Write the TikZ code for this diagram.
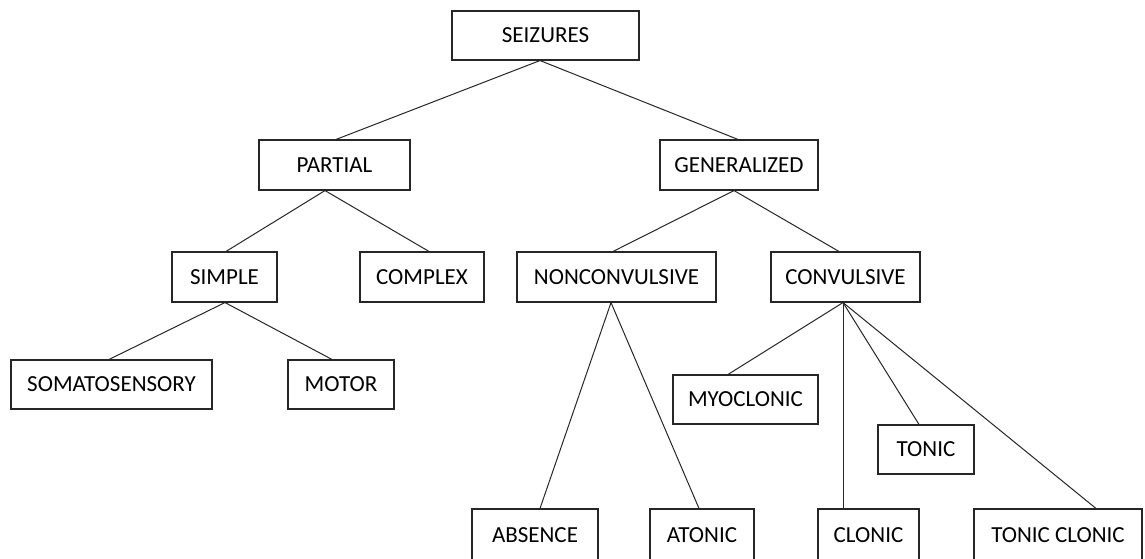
\documentclass[tikz,border=0pt]{standalone}
\usepackage{fontspec}
\setmainfont{Carlito}
\begin{document}
\begin{tikzpicture}[x=1pt,y=-1pt,
  box/.style={draw=black!85,line width=1.1pt,inner sep=0pt,minimum height=49pt,
    font=\fontsize{23}{27}\selectfont,text=black},
  link/.style={draw=black!85,line width=1pt}]
\useasboundingbox (0,0) rectangle (1145,558);
\clip (0,0) rectangle (1145,558);
\node[box,minimum width=187pt] (seiz) at (545.5,35.5) {SEIZURES};
\node[box,minimum width=151pt,minimum height=50pt] (part) at (334.5,165) {PARTIAL};
\node[box,minimum width=158pt,minimum height=50pt] (gen) at (739,165) {GENERALIZED};
\node[box,minimum width=105pt,minimum height=50pt] (simp) at (224.5,277) {SIMPLE};
\node[box,minimum width=124pt,minimum height=50pt] (comp) at (422,277) {COMPLEX};
\node[box,minimum width=199pt,minimum height=50pt] (nonc) at (616.5,277) {NONCONVULSIVE};
\node[box,minimum width=149pt,minimum height=50pt] (conv) at (845.5,277) {CONVULSIVE};
\node[box,minimum width=201pt] (soma) at (111.5,384.5) {SOMATOSENSORY};
\node[box,minimum width=106pt] (motor) at (341,384.5) {MOTOR};
\node[box,minimum width=145pt] (myo) at (745.5,399.5) {MYOCLONIC};
\node[box,minimum width=96pt] (tonic) at (926,449.5) {TONIC};
\node[box,minimum width=126pt,minimum height=52pt] (abs) at (535,535) {ABSENCE};
\node[box,minimum width=104pt,minimum height=52pt] (aton) at (702,535) {ATONIC};
\node[box,minimum width=101pt,minimum height=52pt] (clon) at (868.5,535) {CLONIC};
\node[box,minimum width=168pt,minimum height=52pt] (tcl) at (1058,535) {TONIC CLONIC};
% connectors
\draw[link] ([xshift=-5.5pt]seiz.south) -- ([xshift=1.5pt]part.north);
\draw[link] ([xshift=-5.5pt]seiz.south) -- ([xshift=-1pt]gen.north);
\draw[link] ([xshift=-9.5pt]part.south) -- ([xshift=1.5pt]simp.north);
\draw[link] ([xshift=-9.5pt]part.south) -- ([xshift=7pt]comp.north);
\draw[link] ([xshift=0.5pt]simp.south) -- ([xshift=-2.5pt]soma.north);
\draw[link] ([xshift=0.5pt]simp.south) -- ([xshift=-9pt]motor.north);
\draw[link] ([xshift=-5pt]gen.south) -- ([xshift=-3.5pt]nonc.north);
\draw[link] ([xshift=-5pt]gen.south) -- ([xshift=-6.5pt]conv.north);
\draw[link] ([xshift=-5.5pt]nonc.south) -- ([xshift=5pt]abs.north);
\draw[link] ([xshift=-5.5pt]nonc.south) -- ([xshift=-3pt]aton.north);
\draw[link] ([xshift=-2.5pt]conv.south) -- ([xshift=-17.5pt]myo.north);
\draw[link] ([xshift=-2.5pt]conv.south) -- ([xshift=-7pt]tonic.north);
\draw[link] ([xshift=-2.5pt]conv.south) -- ([xshift=-25.5pt]clon.north);
\draw[link] ([xshift=-2.5pt]conv.south) -- ([xshift=38pt]tcl.north);
\end{tikzpicture}
\end{document}
